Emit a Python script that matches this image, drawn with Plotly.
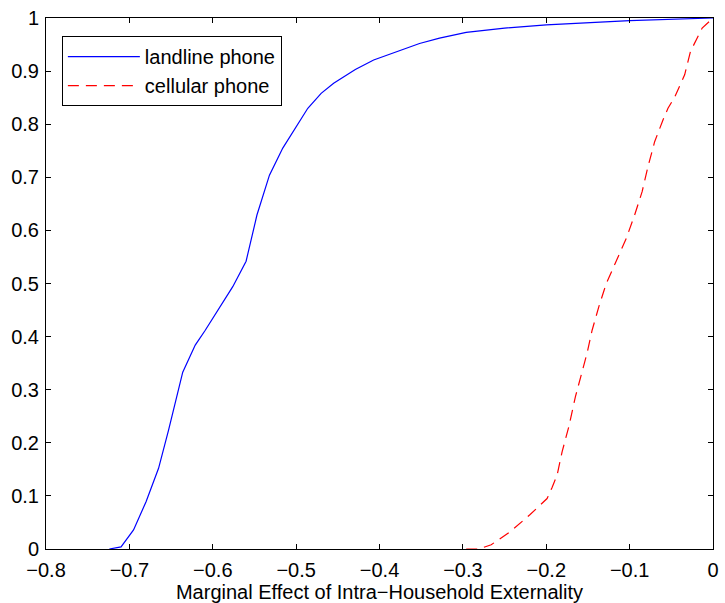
import plotly.graph_objects as go

# Landline phone CDF (blue solid)
x_land = [-0.724, -0.710, -0.695, -0.680, -0.665, -0.653, -0.636, -0.621, -0.609,
          -0.576, -0.560, -0.547, -0.532, -0.516, -0.486, -0.470, -0.455, -0.429,
          -0.407, -0.383, -0.352, -0.328, -0.296, -0.25, -0.2, -0.1, 0.0]
y_land = [0.0, 0.004, 0.036, 0.089, 0.152, 0.224, 0.333, 0.384, 0.412,
          0.494, 0.542, 0.629, 0.704, 0.755, 0.830, 0.858, 0.877, 0.903,
          0.921, 0.934, 0.952, 0.962, 0.973, 0.981, 0.987, 0.995, 1.0]

# Cellular phone CDF (red dashed)
x_cell = [-0.296, -0.281, -0.266, -0.243, -0.220, -0.199, -0.193, -0.187, -0.181,
          -0.173, -0.165, -0.159, -0.151, -0.145, -0.141, -0.137, -0.128, -0.116,
          -0.104, -0.094, -0.085, -0.078, -0.070, -0.060, -0.054, -0.046, -0.034,
          -0.027, -0.013, 0.0]
y_cell = [0.0, 0.0, 0.008, 0.033, 0.064, 0.095, 0.116, 0.139, 0.183,
          0.230, 0.287, 0.324, 0.369, 0.412, 0.434, 0.456, 0.500, 0.544,
          0.585, 0.629, 0.673, 0.720, 0.767, 0.808, 0.830, 0.851, 0.893,
          0.937, 0.981, 1.0]

x_ticks = [-0.8, -0.7, -0.6, -0.5, -0.4, -0.3, -0.2, -0.1, 0]
y_ticks = [0, 0.1, 0.2, 0.3, 0.4, 0.5, 0.6, 0.7, 0.8, 0.9, 1]
x_title = "Marginal Effect of Intra\u2212Household Externality"

FONT = "Liberation Sans, Arial, Helvetica, sans-serif"

fig = go.Figure()
fig.add_trace(go.Scatter(x=x_land, y=y_land, mode="lines", name="landline phone",
                         line=dict(color="#0000ff", width=1.2)))
fig.add_trace(go.Scatter(x=x_cell, y=y_cell, mode="lines", name="cellular phone",
                         line=dict(color="#ff0000", width=1.2, dash="11px,7px")))

axis_common = dict(showline=True, linecolor="black", linewidth=1, mirror="allticks",
                   ticks="inside", ticklen=5, tickcolor="black", tickwidth=1,
                   showgrid=False, zeroline=False,
                   tickfont=dict(family=FONT, size=20, color="black"))

fig.update_xaxes(range=[-0.8, 0], tickvals=x_ticks,
                 ticktext=[("\u2212" if v < 0 else "") + ("%g" % abs(v)) for v in x_ticks],
                 ticklabelstandoff=3,
                 title=dict(text=x_title, font=dict(family=FONT, size=20, color="black"),
                            standoff=2),
                 **axis_common)
fig.update_yaxes(range=[0, 1], tickvals=y_ticks,
                 ticktext=["%g" % v for v in y_ticks],
                 ticklabelstandoff=2,
                 **axis_common)

fig.update_layout(
    width=725, height=603,
    margin=dict(l=46, r=6, t=18, b=54, pad=0),
    paper_bgcolor="white", plot_bgcolor="white",
    font=dict(family=FONT, size=20, color="black"),
    showlegend=True,
    legend=dict(x=0.0238, y=0.966, xanchor="left", yanchor="top",
                bgcolor="white", bordercolor="black", borderwidth=1,
                font=dict(family=FONT, size=20, color="black"),
                itemwidth=72, tracegroupgap=0),
)

fig.write_html("out.html")
